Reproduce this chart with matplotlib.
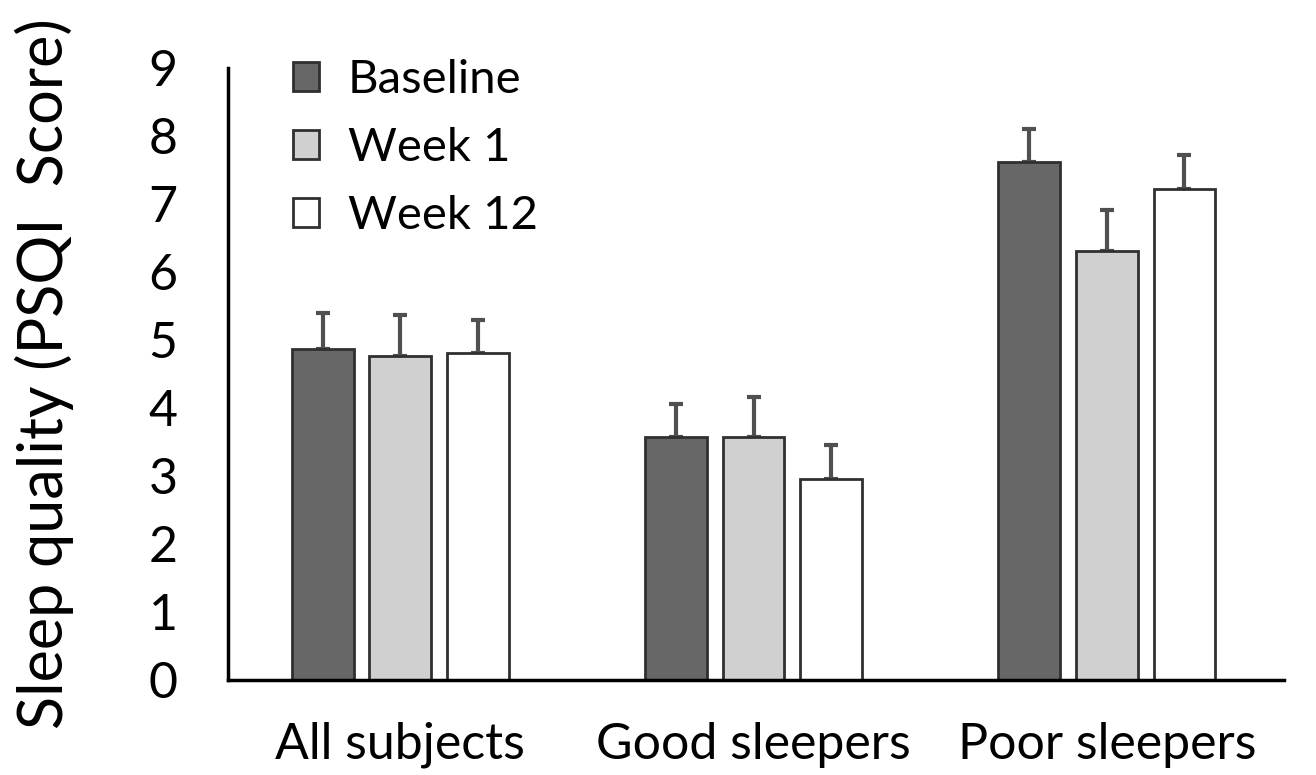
import numpy as np
import matplotlib.pyplot as plt

plt.rcParams['font.family'] = ['Lato', 'DejaVu Sans']

groups = ['All subjects', 'Good sleepers', 'Poor sleepers']
series = ['Baseline', 'Week 1', 'Week 12']
means = {
    'Baseline': [4.87, 3.57, 7.62],
    'Week 1': [4.76, 3.57, 6.31],
    'Week 12': [4.81, 2.96, 7.22],
}
errors = {
    'Baseline': [0.53, 0.49, 0.48],
    'Week 1': [0.61, 0.59, 0.60],
    'Week 12': [0.48, 0.50, 0.49],
}
colors = {'Baseline': '#676767', 'Week 1': '#d0d0d0', 'Week 12': '#ffffff'}

fig = plt.figure(figsize=(13.16, 7.75), dpi=100)
ax = fig.add_axes([0.173, 0.1226, 0.803, 0.79])

x = np.arange(len(groups))
width = 0.175
step = 0.22
for i, s in enumerate(series):
    pos = x + (i - 1) * step
    ax.bar(pos, means[s], width, color=colors[s], edgecolor='#303030',
           linewidth=2, label=s, zorder=2)
    ax.errorbar(pos, means[s], yerr=[np.zeros(3), errors[s]], fmt='none',
                ecolor='#505050', elinewidth=3, capsize=5, capthick=3, zorder=1)

ax.set_xlim(-0.489, 2.503)
ax.set_ylim(0, 9)
ax.set_yticks(range(10))
ax.set_xticks(x)
ax.set_xticklabels(groups)
ax.tick_params(axis='both', length=0, labelsize=36)
ax.tick_params(axis='y', pad=36)
ax.tick_params(axis='x', pad=30)
for sp in ['top', 'right']:
    ax.spines[sp].set_visible(False)
for sp in ['left', 'bottom']:
    ax.spines[sp].set_linewidth(2.5)
ax.set_ylabel('Sleep quality (PSQI  Score)', fontsize=44, labelpad=54)

ax.legend(loc='upper left', bbox_to_anchor=(0.022, 1.083), frameon=False,
          fontsize=34, handlelength=0.55, handleheight=0.55,
          handletextpad=0.6, labelspacing=0.55)

fig.savefig('out.png', dpi=100)
